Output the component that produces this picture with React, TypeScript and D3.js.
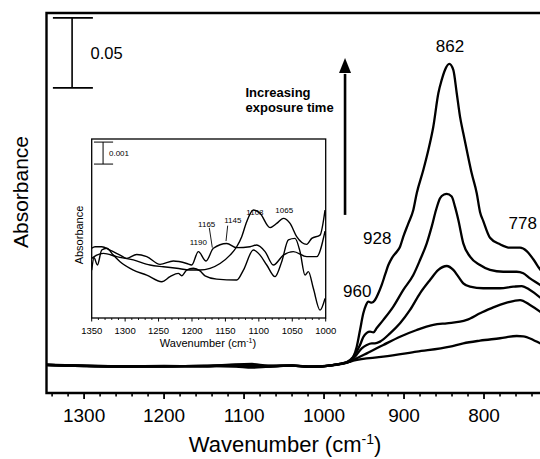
import React from "react";
import * as d3 from "d3";

const WIDTH = 540;
const HEIGHT = 459;
const FONT = "'Liberation Sans', Arial, Helvetica, sans-serif";

// ---------- main plot data (wavenumber cm-1, absorbance) ----------
const curve1: [number, number][] = [
  [1347, 0.0008], [1300, 0.0001], [1250, -0.0003], [1200, 0.0], [1150, -0.0002], [1110, 0.0012], [1090, 0.0014],
  [1070, 0.0002], [1040, 0.0004], [1020, -0.0004], [1005, -0.0003], [990, 0.0006], [980, 0.0015], [972, 0.0026],
  [967.5, 0.0031], [963.4, 0.0066], [959.1, 0.0138], [955, 0.0257], [950.9, 0.0376], [947.5, 0.0436], [944.6, 0.0459],
  [940.4, 0.0452], [936.3, 0.0471], [932.1, 0.0519], [927.9, 0.0579], [923.8, 0.065], [919.6, 0.0721], [915.4, 0.0769],
  [909.1, 0.0816], [905, 0.0852], [900.9, 0.0924], [894.6, 0.1019], [888.4, 0.1114], [884.1, 0.1234], [875.9, 0.14],
  [869.6, 0.1543], [863.4, 0.1709], [857.1, 0.1948], [852.9, 0.2043], [848.8, 0.2114], [843.4, 0.2157], [838.4, 0.2114],
  [834.1, 0.1948], [830, 0.1781], [825.9, 0.1662], [821.6, 0.1543], [815.4, 0.1376], [809.1, 0.1234], [805, 0.11],
  [800.9, 0.1035], [792.5, 0.0916], [780, 0.0869], [767.5, 0.0845], [755, 0.0845], [746.6, 0.0821], [738.4, 0.0762],
  [730, 0.069], [722, 0.063],
];
const curve2: [number, number][] = [
  [1347, 0.0007], [1300, 0.0], [1250, -0.0003], [1200, -0.0002], [1150, -0.0001], [1110, 0.0008], [1090, 0.0006],
  [1070, 0.0], [1040, 0.0003], [1020, -0.0004], [1005, -0.0003], [990, 0.0006], [980, 0.0015], [972, 0.0026],
  [963.4, 0.0066], [955, 0.015], [950.9, 0.0207], [946.6, 0.0236], [942.5, 0.0245], [938.4, 0.024], [934.1, 0.0271],
  [925.9, 0.0329], [913.4, 0.0424], [900.9, 0.0543], [888.4, 0.065], [880, 0.0757], [871.6, 0.0876], [865.4, 0.0995],
  [860, 0.1114], [855, 0.1198], [850, 0.1225], [846.6, 0.1229], [840.4, 0.121], [836.3, 0.1138], [832.1, 0.1043],
  [825.9, 0.0876], [817.5, 0.0781], [805, 0.0721], [792.5, 0.0686], [775.9, 0.0673], [759.1, 0.0673], [750.9, 0.0662],
  [742.5, 0.0626], [730, 0.0579], [722, 0.054],
];
const curve3: [number, number][] = [
  [1347, 0.0007], [1300, 0.0], [1250, -0.0004], [1200, -0.0003], [1150, 0.0], [1110, 0.0004], [1090, 0.0],
  [1070, -0.0002], [1040, 0.0003], [1020, -0.0005], [1005, -0.0003], [990, 0.0006], [980, 0.0015], [972, 0.0024],
  [961.3, 0.0066], [952.9, 0.0126], [946.6, 0.015], [940.4, 0.0162], [936.3, 0.0162], [930, 0.0174], [917.5, 0.0233],
  [905, 0.0305], [892.5, 0.04], [880, 0.0519], [867.5, 0.0614], [857.1, 0.0686], [846.6, 0.0714], [838.4, 0.0686],
  [832.1, 0.0638], [825.9, 0.059], [817.5, 0.0566], [800.9, 0.0555], [780, 0.0555], [763.4, 0.0566], [752.9, 0.0571],
  [742.5, 0.0543], [730, 0.049], [722, 0.045],
];
const curve4: [number, number][] = [
  [1347, 0.0008], [1300, 0.0001], [1250, -0.0002], [1200, -0.0003], [1150, 0.0], [1110, 0.0], [1090, -0.0006],
  [1070, -0.0004], [1040, 0.0002], [1020, -0.0005], [1005, -0.0004], [990, 0.0005], [980, 0.0014], [972, 0.0023],
  [959.1, 0.0055], [946.6, 0.009], [925.9, 0.015], [905, 0.0209], [884.1, 0.0257], [863.4, 0.0293], [846.6, 0.0305],
  [830, 0.0316], [821.6, 0.0329], [805, 0.0376], [788.4, 0.0419], [771.6, 0.0452], [755, 0.0471], [742.5, 0.0436],
  [730, 0.0388], [722, 0.035],
];
const curve5: [number, number][] = [
  [1347, 0.0009], [1300, 0.0002], [1250, -0.0002], [1200, -0.0002], [1150, 0.0001], [1110, -0.0004], [1090, -0.0012],
  [1070, -0.0005], [1040, 0.0002], [1020, -0.0004], [1005, -0.0004], [990, 0.0005], [980, 0.0013], [972, 0.0022],
  [963.4, 0.0038], [925.9, 0.0066], [884.1, 0.0102], [842.5, 0.0138], [825.9, 0.0162], [805, 0.0181], [780, 0.0198],
  [759.1, 0.0214], [750.9, 0.0212], [738.4, 0.0186], [730, 0.0162], [722, 0.0145],
];
const mainCurves = [curve1, curve2, curve3, curve4, curve5];

const mainMajorTicks = [1300, 1200, 1100, 1000, 900, 800];
const mainTickLabels = ["1300", "1200", "1100", "1000", "900", "800"];
const peakLabels = [
  { text: "862", wn: 842.5, a: 0.2243 },
  { text: "928", wn: 933.5, a: 0.0871 },
  { text: "960", wn: 958.5, a: 0.0493 },
  { text: "778", wn: 751.5, a: 0.0979 },
];
const mainScaleBar = { wn: 1315, wnLeft: 1339, wnRight: 1289, from: 0.1986, to: 0.2486, label: "0.05" };
const arrowSpec = { wn: 973.75, from: 0.1079, tip: 0.22, headBase: 0.2093 };

// ---------- inset data (wavenumber, absorbance in 10^-3) ----------
const insetA: [number, number][] = [
  [1350, 2.71], [1342.5, 2.86], [1332.6, 2.94], [1312.6, 2.79], [1287.7, 2.64], [1262.8, 2.41], [1242.8, 2.33],
  [1222.9, 2.26], [1202.9, 2.18], [1188, 2.18], [1173, 2.26], [1158, 2.48], [1143.1, 2.86], [1133.1, 3.24],
  [1125.6, 3.7], [1118.2, 4.38], [1108.2, 4.91], [1098.2, 4.76], [1083.3, 4.11], [1073.3, 4.3], [1063.3, 4.53],
  [1053.3, 4.3], [1043.4, 3.7], [1028.4, 3.35], [1020.9, 3.62], [1008.5, 3.77], [1001, 4.91],
];
const insetB: [number, number][] = [
  [1350, 2.18], [1346.5, 2.74], [1341.5, 2.41], [1335, 3.09], [1327.6, 3.17], [1317.6, 2.86], [1307.6, 2.56],
  [1287.7, 2.18], [1267.7, 1.95], [1245.3, 1.65], [1232.8, 1.88], [1220.4, 2.03], [1215.4, 1.92], [1207.9, 2.18],
  [1198, 2.26], [1188, 2.14], [1180.5, 1.92], [1163, 1.77], [1133.1, 1.73], [1123.1, 2.18], [1108.2, 3.09],
  [1098.2, 2.86], [1088.2, 2.41], [1075.8, 1.88], [1065.8, 2.56], [1055.8, 3.55], [1045.9, 3.62], [1038.4, 3.02],
  [1030.9, 1.95], [1025.9, 2.11], [1018.5, 1.35], [1008.5, 0.36], [1001, 0.89],
];
const insetC: [number, number][] = [
  [1350, 3.17], [1345, 3.24], [1335, 3.24], [1322.6, 3.09], [1307.6, 2.86], [1297.7, 2.71], [1282.7, 2.89],
  [1267.7, 2.79], [1247.8, 2.44], [1227.9, 2.59], [1207.9, 2.48], [1200.4, 2.41], [1190.5, 3.02], [1179, 2.59],
  [1168, 3.17], [1148.1, 3.39], [1133.1, 3.2], [1113.2, 3.24], [1103.2, 3.32], [1090.7, 3.02], [1078.3, 2.41],
  [1063.3, 2.86], [1048.4, 3.02], [1028.4, 2.79], [1013.5, 2.79], [1001, 3.95],
];
const insetCurves = [insetA, insetB, insetC];

const insetMajorTicks = [1350, 1300, 1250, 1200, 1150, 1100, 1050, 1000];
const insetTickLabels = ["1350", "1300", "1250", "1200", "1150", "1100", "1050", "1000"];
const insetPeakLabels = [
  { text: "1190", wn: 1190.6, a: 3.34 },
  { text: "1165", wn: 1178, a: 4.15 },
  { text: "1145", wn: 1139, a: 4.32 },
  { text: "1108", wn: 1105.8, a: 4.7 },
  { text: "1065", wn: 1062, a: 4.77 },
];
const insetLeaders = [
  { wn1: 1174.1, a1: 4.1, wn2: 1169.6, a2: 3.2 },
  { wn1: 1146.6, a1: 4.2, wn2: 1149.1, a2: 3.5 },
];
const insetScaleBar = { wn: 1333, wnLeft: 1346.6, wnRight: 1318, from: 7, to: 8, label: "0.001" };

export default function App() {
  // main scales
  const x = d3.scaleLinear().domain([1347, 705]).range([46.5, 560]);
  const y = d3.scaleLinear().domain([-0.0193, 0.2521]).range([393, 13]);
  const line = d3
    .line<[number, number]>()
    .x((d) => x(d[0]))
    .y((d) => y(d[1]))
    .curve(d3.curveMonotoneX);

  const mainMinor = d3.range(1340, 700, -20).filter((v) => v % 100 !== 0);

  // inset scales
  const ix = d3.scaleLinear().domain([1350, 1000]).range([91.7, 325.7]);
  const iy = d3.scaleLinear().domain([0, 8.14]).range([318, 139]);
  const iline = d3
    .line<[number, number]>()
    .x((d) => ix(d[0]))
    .y((d) => iy(d[1]))
    .curve(d3.curveMonotoneX);
  const insetMinor = d3.range(1340, 1000, -10).filter((v) => v % 50 !== 0);

  const x0 = x.range()[0];
  const yTop = y.range()[1];
  const yBot = y.range()[0];
  const ix0 = ix.range()[0];
  const ix1 = ix.range()[1];
  const iyTop = iy.range()[1];
  const iyBot = iy.range()[0];

  return (
    <svg
      width={WIDTH}
      height={HEIGHT}
      style={{ position: "absolute", left: 0, top: 0, background: "#fff" }}
      fontFamily={FONT}
    >
      <rect x={0} y={0} width={WIDTH} height={HEIGHT} fill="#fff" />
      <defs>
        <clipPath id="mainClip">
          <rect x={x0} y={yTop} width={WIDTH - x0} height={yBot - yTop} />
        </clipPath>
        <clipPath id="insetClip">
          <rect x={ix0} y={iyTop} width={ix1 - ix0} height={iyBot - iyTop} />
        </clipPath>
      </defs>

      {/* main curves */}
      <g clipPath="url(#mainClip)">
        {mainCurves.map((c, i) => (
          <path key={i} d={line(c) || ""} fill="none" stroke="#000" strokeWidth={2.3} strokeLinejoin="round" />
        ))}
      </g>

      {/* main frame */}
      <path
        d={`M${WIDTH + 5},${yTop}H${x0}V${yBot}H${WIDTH + 5}`}
        fill="none"
        stroke="#000"
        strokeWidth={2.4}
      />
      {/* ticks */}
      {mainMajorTicks.map((t) => (
        <line key={"M" + t} x1={x(t)} x2={x(t)} y1={yBot} y2={yBot + 6} stroke="#000" strokeWidth={1.8} />
      ))}
      {mainMinor.map((t) => (
        <line key={"m" + t} x1={x(t)} x2={x(t)} y1={yBot} y2={yBot + 3.5} stroke="#000" strokeWidth={1.6} />
      ))}
      {mainMajorTicks.map((t, i) => (
        <text key={"L" + t} x={x(t)} y={422} fontSize={19} textAnchor="middle">
          {mainTickLabels[i]}
        </text>
      ))}
      <text x={285} y={452} fontSize={22} textAnchor="middle">
        Wavenumber (cm
        <tspan fontSize={14} dy={-8}>
          -1
        </tspan>
        <tspan dy={8}>)</tspan>
      </text>
      <text transform={`translate(28,192) rotate(-90)`} fontSize={21} textAnchor="middle">
        Absorbance
      </text>

      {/* scale bar */}
      <g stroke="#000" strokeWidth={1.6}>
        <line x1={x(mainScaleBar.wn)} x2={x(mainScaleBar.wn)} y1={y(mainScaleBar.from)} y2={y(mainScaleBar.to)} />
        <line x1={x(mainScaleBar.wnLeft)} x2={x(mainScaleBar.wnRight)} y1={y(mainScaleBar.from)} y2={y(mainScaleBar.from)} />
        <line x1={x(mainScaleBar.wnLeft)} x2={x(mainScaleBar.wnRight)} y1={y(mainScaleBar.to)} y2={y(mainScaleBar.to)} />
      </g>
      <text x={90.5} y={59} fontSize={16.5}>
        {mainScaleBar.label}
      </text>

      {/* peak labels */}
      {peakLabels.map((p) => (
        <text key={p.text} x={x(p.wn)} y={y(p.a)} fontSize={17} textAnchor="middle">
          {p.text}
        </text>
      ))}

      {/* arrow */}
      <line
        x1={x(arrowSpec.wn)}
        x2={x(arrowSpec.wn)}
        y1={y(arrowSpec.from)}
        y2={y(arrowSpec.headBase) + 1}
        stroke="#000"
        strokeWidth={2.6}
      />
      <polygon
        points={`${x(arrowSpec.wn) - 6},${y(arrowSpec.headBase)} ${x(arrowSpec.wn) + 6},${y(arrowSpec.headBase)} ${x(
          arrowSpec.wn
        )},${y(arrowSpec.tip)}`}
        fill="#000"
      />
      <text x={245.5} y={97} fontSize={13} fontWeight="bold">
        Increasing
      </text>
      <text x={245.5} y={112} fontSize={13} fontWeight="bold">
        exposure time
      </text>

      {/* inset */}
      <rect x={ix0} y={iyTop} width={ix1 - ix0} height={iyBot - iyTop} fill="#fff" stroke="#000" strokeWidth={1.3} />
      <g clipPath="url(#insetClip)">
        {insetCurves.map((c, i) => (
          <path key={i} d={iline(c) || ""} fill="none" stroke="#000" strokeWidth={1.4} strokeLinejoin="round" />
        ))}
      </g>
      {insetMajorTicks.map((t) => (
        <line key={"IM" + t} x1={ix(t)} x2={ix(t)} y1={iyBot} y2={iyBot + 3.5} stroke="#000" strokeWidth={1} />
      ))}
      {insetMinor.map((t) => (
        <line key={"Im" + t} x1={ix(t)} x2={ix(t)} y1={iyBot} y2={iyBot + 2} stroke="#000" strokeWidth={0.9} />
      ))}
      {insetMajorTicks.map((t, i) => (
        <text key={"IL" + t} x={ix(t)} y={334} fontSize={9.5} textAnchor="middle">
          {insetTickLabels[i]}
        </text>
      ))}
      <text x={208} y={347} fontSize={11} textAnchor="middle">
        Wavenumber (cm
        <tspan fontSize={7} dy={-4}>
          -1
        </tspan>
        <tspan dy={4}>)</tspan>
      </text>
      <text transform={`translate(83,235) rotate(-90)`} fontSize={11} textAnchor="middle">
        Absorbance
      </text>
      <g stroke="#000" strokeWidth={1}>
        <line x1={ix(insetScaleBar.wn)} x2={ix(insetScaleBar.wn)} y1={iy(insetScaleBar.from)} y2={iy(insetScaleBar.to)} />
        <line x1={ix(insetScaleBar.wnLeft)} x2={ix(insetScaleBar.wnRight)} y1={iy(insetScaleBar.from)} y2={iy(insetScaleBar.from)} />
        <line x1={ix(insetScaleBar.wnLeft)} x2={ix(insetScaleBar.wnRight)} y1={iy(insetScaleBar.to)} y2={iy(insetScaleBar.to)} />
      </g>
      <text x={109} y={156} fontSize={8}>
        {insetScaleBar.label}
      </text>
      {insetPeakLabels.map((p) => (
        <text key={p.text} x={ix(p.wn)} y={iy(p.a)} fontSize={8} textAnchor="middle">
          {p.text}
        </text>
      ))}
      {insetLeaders.map((l, i) => (
        <line key={i} x1={ix(l.wn1)} y1={iy(l.a1)} x2={ix(l.wn2)} y2={iy(l.a2)} stroke="#000" strokeWidth={0.9} />
      ))}
    </svg>
  );
}
